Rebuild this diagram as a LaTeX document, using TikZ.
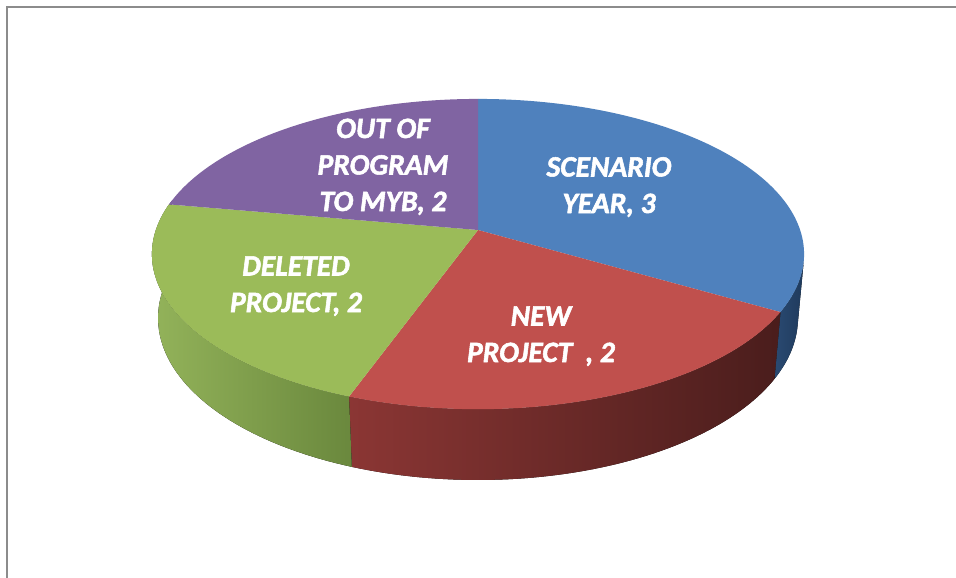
\documentclass[tikz,border=0pt]{standalone}
\usepackage{fontspec}
\setmainfont{Carlito}
\newfontfamily\lblfont{Carlito}[FakeBold=1.8]
\definecolor{pblue}{HTML}{4F81BD}
\definecolor{pred}{HTML}{C0504D}
\definecolor{pgreen}{HTML}{9BBB59}
\definecolor{ppurple}{HTML}{8064A2}
\definecolor{framegray}{HTML}{8C8C8C}
\definecolor{sblue}{HTML}{1F3A5C}
\definecolor{sblueL}{HTML}{2A4A72}
\definecolor{sredL}{HTML}{8B3634}
\definecolor{sredR}{HTML}{4A1D1C}
\definecolor{sgreenL}{HTML}{93B35A}
\definecolor{sgreenR}{HTML}{6A883D}
\definecolor{spurple}{HTML}{5A4675}
\begin{document}
\begin{tikzpicture}[x=1pt,y=-1pt,
  declare function={
    tx(\t)=478+1833*cos(\t)/(5.69+0.8826*sin(\t));
    ty(\t)=230-861.5*sin(\t)/(5.69+0.8826*sin(\t));
    bx(\t)=478+1833*cos(\t)/(5.7966+0.8826*sin(\t));
    by(\t)=230-1833*(0.47*sin(\t)-0.2002)/(5.7966+0.8826*sin(\t));
  },
  lbl/.style={text=white,font=\lblfont\bfseries\itshape\fontsize{29.5}{36.5}\selectfont,align=center,inner sep=0pt,anchor=base}
]
\useasboundingbox (0,0) rectangle (956,578);
\fill[white] (0,0) rectangle (956,578);
% frame
\draw[framegray,line width=2pt] (7,578) -- (7,7) -- (956,7);
% centre of the pie
\coordinate (c) at (478,230);
% side faces
\fill[left color=sblueL,right color=sblue]
  plot[domain=-11.5:-30,samples=20] ({tx(\x)},{ty(\x)})
  -- plot[domain=-30:-11.5,samples=20] ({bx(\x)},{by(\x)}) -- cycle;
\fill[left color=sredL,right color=sredR]
  plot[domain=-30:-110,samples=60] ({tx(\x)},{ty(\x)})
  -- plot[domain=-110:-30,samples=60] ({bx(\x)},{by(\x)}) -- cycle;
\fill[left color=sgreenL,right color=sgreenR]
  plot[domain=-110:-190,samples=60] ({tx(\x)},{ty(\x)})
  -- plot[domain=-190:-110,samples=60] ({bx(\x)},{by(\x)}) -- cycle;
\fill[spurple]
  plot[domain=-190:-191.5,samples=5] ({tx(\x)},{ty(\x)})
  -- plot[domain=-191.5:-190,samples=5] ({bx(\x)},{by(\x)}) -- cycle;
% top faces
\fill[pblue] (c) -- plot[domain=90:-30,samples=90] ({tx(\x)},{ty(\x)}) -- cycle;
\fill[pred] (c) -- plot[domain=-30:-110,samples=60] ({tx(\x)},{ty(\x)}) -- cycle;
\fill[pgreen] (c) -- plot[domain=-110:-190,samples=60] ({tx(\x)},{ty(\x)}) -- cycle;
\fill[ppurple] (c) -- plot[domain=170:90,samples=60] ({tx(\x)},{ty(\x)}) -- cycle;
% labels
\node[lbl] (scen) at (609,213) {SCENARIO\\YEAR, 3};
\node[lbl] (newp) at (541,362) {NEW\\PROJECT\ \ , 2};
\node[lbl] (delp) at (296,312) {DELETED\\PROJECT, 2};
\node[lbl] (outp) at (383,211) {OUT OF\\PROGRAM\\TO MYB, 2};
\end{tikzpicture}
\end{document}
